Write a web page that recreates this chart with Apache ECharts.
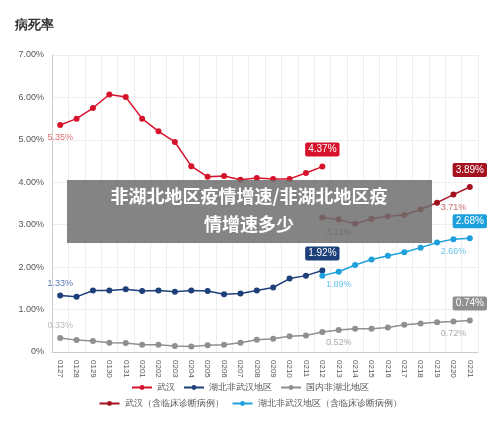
<!DOCTYPE html><html><head><meta charset="utf-8"><script src="https://cdn.jsdelivr.net/npm/echarts@6/dist/echarts.min.js"></script></head><body style="margin:0;background:#fff"><div id="c" style="width:500px;height:423px"></div><script>
const categories=['0127','0128','0129','0130','0131','0201','0202','0203','0204','0205','0206','0207','0208','0209','0210','0211','0212','0213','0214','0215','0216','0217','0218','0219','0220','0221'];
const wuhan=[5.35,5.5,5.75,6.07,6.01,5.5,5.2,4.95,4.38,4.13,4.15,4.06,4.1,4.08,4.08,4.22,4.37];
const hubeiNonWuhan=[1.33,1.30,1.45,1.45,1.48,1.44,1.45,1.42,1.45,1.44,1.36,1.38,1.45,1.52,1.73,1.80,1.92];
const nonHubei=[0.33,0.28,0.26,0.22,0.21,0.17,0.17,0.14,0.13,0.16,0.17,0.22,0.29,0.31,0.37,0.39,0.47,0.52,0.55,0.55,0.58,0.64,0.67,0.70,0.72,0.74];
const wuhanClin=[3.17,3.12,3.02,3.14,3.20,3.23,3.36,3.52,3.71,3.89];
const hubeiClin=[1.80,1.89,2.05,2.18,2.27,2.35,2.46,2.58,2.66,2.68];
const names=['武汉','湖北非武汉地区','国内非湖北地区','武汉（含临床诊断病例）','湖北非武汉地区（含临床诊断病例）'];
const colors=['#d7132c','#1d3f7a','#8f8f8f','#a3111f','#1ea0dc'];
function pad(a,off){return Array(off).fill(null).concat(a);}
function mk(i,arr,off,lab){
  const d=pad(arr,off).map((v,k)=>{
    if(v==null)return null;
    const o={value:v};
    if(lab[k]){o.label=lab[k];}
    return o;});
  return {name:names[i],type:'line',data:d,symbol:'circle',symbolSize:6,color:colors[i],lineStyle:{width:1.5},z:2,
    label:{show:false,formatter:p=>p.value.toFixed(2)+'%',fontSize:9}};
}
function endLab(c){return {show:true,position:'top',color:'#fff',backgroundColor:c,padding:[2,3],borderRadius:2,fontSize:10,distance:7};}
function plain(c,pos){return {show:true,position:pos,color:c,fontSize:9};}
const L0={0:plain('#e07070','bottom'),16:endLab(colors[0])};
const L1={0:{show:true,position:'top',color:'#5b7bb0',fontSize:9},16:endLab(colors[1])};
const L2={0:{show:true,position:'top',color:'#bbb',fontSize:9},17:plain('#aaa','bottom'),24:plain('#aaa','bottom'),25:endLab(colors[2])};
const L3={17:plain('#a86060','bottom'),24:plain('#c07070','bottom'),25:endLab(colors[3])};
const L4={17:plain('#6cc3ea','bottom'),24:plain('#6cc3ea','bottom'),25:endLab(colors[4])};
const c=echarts.init(document.getElementById('c'));
c.setOption({
 animation:false,
 title:{text:'病死率',left:10,top:14,textStyle:{fontSize:13,fontWeight:'bold',color:'#333'}},
 grid:{left:52,right:22,top:55,bottom:71},
 legend:[{data:names.slice(0,3),bottom:26,itemWidth:20,itemHeight:6,textStyle:{fontSize:9,color:'#555'}},
         {data:names.slice(3),bottom:10,itemWidth:20,itemHeight:6,textStyle:{fontSize:9,color:'#555'}}],
 xAxis:{type:'category',data:categories,boundaryGap:true,axisLabel:{rotate:-90,fontSize:8,color:'#555',interval:0},
   axisTick:{show:false},axisLine:{lineStyle:{color:'#ccc'}},splitLine:{show:true,lineStyle:{color:'#eee'}}},
 yAxis:{type:'value',min:0,max:7,interval:1,axisLabel:{formatter:v=>v===0?'0%':v.toFixed(2)+'%',fontSize:9,color:'#555'},
   axisLine:{show:true,lineStyle:{color:'#ccc'}},splitLine:{lineStyle:{color:'#eee'}}},
 series:[mk(0,wuhan,0,L0),mk(1,hubeiNonWuhan,0,L1),mk(2,nonHubei,0,L2),mk(3,wuhanClin,16,L3),mk(4,hubeiClin,16,L4)],
 graphic:[{type:'rect',left:67,top:180,z:100,shape:{width:365,height:63},style:{fill:'rgba(110,110,110,0.85)'}},
  {type:'text',x:249,y:182,z:101,style:{text:'非湖北地区疫情增速/非湖北地区疫\n情增速多少',textAlign:'center',fill:'#fff',font:'bold 18px "Noto Sans CJK SC"',lineHeight:28}}]
});
</script></body></html>
